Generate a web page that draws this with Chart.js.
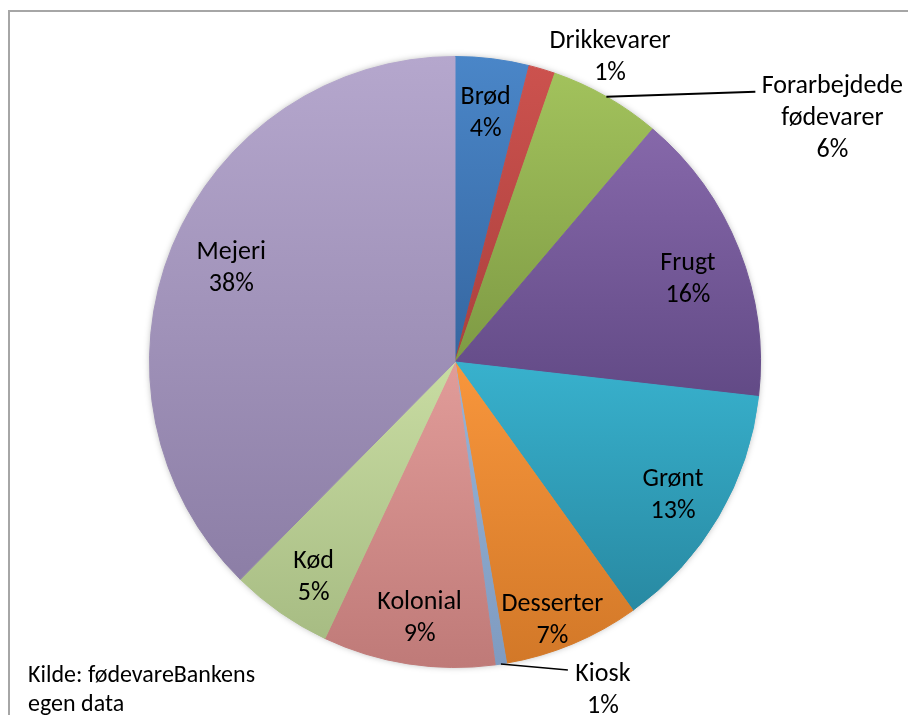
<!DOCTYPE html>
<html>
<head>
<meta charset="utf-8">
<script src="https://cdn.jsdelivr.net/npm/chart.js@4"></script>
<style>
  html, body { margin: 0; padding: 0; background: #fff; }
  canvas { display: block; }
</style>
</head>
<body>
<canvas id="pie" width="908" height="715"></canvas>
<script>
// Andel pr. varegruppe (aflæst fra figuren, i %)
const categories = ['Brød', 'Drikkevarer', 'Forarbejdede fødevarer', 'Frugt', 'Grønt',
  'Desserter', 'Kiosk', 'Kolonial', 'Kød', 'Mejeri'];
const shares = [3.9, 1.4, 5.9, 15.6, 13.3, 7.2, 0.6, 9.1, 5.4, 37.6];
const labelLines = [['Brød'], ['Drikkevarer'], ['Forarbejdede', 'fødevarer'], ['Frugt'], ['Grønt'],
  ['Desserter'], ['Kiosk'], ['Kolonial'], ['Kød'], ['Mejeri']];
const sourceNote = ['Kilde: fødevareBankens', 'egen data'];

// farver: top -> bund (Excel-agtig gradient)
const topColors = ['#4a86c8', '#cc524e', '#a2c25c', '#8668aa', '#38b1cd',
  '#f8963c', '#97b4d8', '#e19c99', '#c8dca2', '#b5a7cd'];
const bottomColors = ['#3566a0', '#ab403d', '#7e9a44', '#624a86', '#2889a2',
  '#d27828', '#7f9bc0', '#bf7a78', '#a7bc83', '#8c7ea6'];

const FONT = '"Carlito", "Lato", sans-serif';
const total = shares.reduce((a, b) => a + b, 0);

/**
 * gradient pr. stykke, fra øverste til nederste punkt af stykket
 */
function sliceFill(ctx) {
  const i = ctx.dataIndex;
  const chart = ctx.chart;
  const area = chart.chartArea;
  if (!area || i === undefined) return topColors[i] || '#888';
  const cx = (area.left + area.right) / 2;
  const cy = (area.top + area.bottom) / 2;
  const r = Math.min(area.width, area.height) / 2;
  let before = 0;
  for (let k = 0; k < i; k++) before += shares[k];
  const a0 = before / total * Math.PI * 2 - Math.PI / 2;
  const a1 = (before + shares[i]) / total * Math.PI * 2 - Math.PI / 2;
  const ys = [cy, cy + r * Math.sin(a0), cy + r * Math.sin(a1)];
  const within = (a) => {
    let t = a;
    while (t < a0) t += Math.PI * 2;
    return t <= a1;
  };
  if (within(-Math.PI / 2)) ys.push(cy - r);
  if (within(Math.PI / 2)) ys.push(cy + r);
  const yTop = Math.min(...ys);
  const yBot = Math.max(...ys);
  const g = chart.ctx.createLinearGradient(0, yTop, 0, yBot + 1);
  g.addColorStop(0, topColors[i]);
  g.addColorStop(1, bottomColors[i]);
  return g;
}

// ramme + skygge under lagkagen
const framePlugin = {
  id: 'frame',
  beforeDraw(chart) {
    const c = chart.ctx;
    c.save();
    c.strokeStyle = '#a6a6a6';
    c.lineWidth = 2;
    c.beginPath();
    c.moveTo(9, 715);
    c.lineTo(9, 11);
    c.lineTo(908, 11);
    c.stroke();
    c.restore();
  },
  beforeDatasetsDraw(chart) {
    const arc = chart.getDatasetMeta(0).data[0];
    if (!arc) return;
    const c = chart.ctx;
    c.save();
    c.shadowColor = 'rgba(0,0,0,0.35)';
    c.shadowBlur = 7;
    c.fillStyle = '#ffffff';
    c.beginPath();
    c.arc(arc.x, arc.y, arc.outerRadius - 1, 0, Math.PI * 2);
    c.fill();
    c.restore();
  },
};

// små justeringer af etiketternes placering (px), som Excel's "bedste tilpasning"
const nudge = {
  'Frugt': [0, 10], 'Grønt': [2, 7], 'Desserter': [-8, 6], 'Kolonial': [3, 9],
  'Kød': [2, 10], 'Mejeri': [8, 2],
};

// dataetiketter (inde i stykkerne, eller ude med streg)
const labelPlugin = {
  id: 'sliceLabels',
  afterDatasetsDraw(chart) {
    const c = chart.ctx;
    const meta = chart.getDatasetMeta(0);
    const lh = 32;
    c.save();
    c.font = '26px ' + FONT;
    c.fillStyle = '#000';
    c.textAlign = 'center';
    c.textBaseline = 'middle';

    const drawBlock = (lines, x, yCenter) => {
      const y0 = yCenter - (lines.length - 1) * lh / 2;
      lines.forEach((t, k) => c.fillText(t, x, y0 + k * lh));
    };

    meta.data.forEach((arc, i) => {
      const mid = (arc.startAngle + arc.endAngle) / 2;
      const R = arc.outerRadius;
      const pct = Math.round(shares[i] / total * 100) + '%';
      const lines = labelLines[i].concat([pct]);
      const ex = arc.x + R * Math.cos(mid);
      const ey = arc.y + R * Math.sin(mid);

      if (categories[i] === 'Drikkevarer') {
        drawBlock(lines, ex + 68, ey - 12);
      } else if (categories[i] === 'Forarbejdede fødevarer') {
        c.save();
        c.strokeStyle = '#000';
        c.lineWidth = 2;
        c.beginPath();
        c.moveTo(ex, ey);
        c.lineTo(ex + 149, ey - 5);
        c.stroke();
        c.restore();
        drawBlock(lines, ex + 226, ey + 22);
      } else if (categories[i] === 'Kiosk') {
        c.save();
        c.strokeStyle = '#000';
        c.lineWidth = 1.5;
        c.beginPath();
        c.moveTo(ex, ey);
        c.lineTo(ex + 67, ey + 6);
        c.stroke();
        c.restore();
        drawBlock(lines, ex + 102, ey + 26);
      } else {
        const f = categories[i] === 'Desserter' ? 0.895 : 0.82;
        const d = nudge[categories[i]] || [0, 0];
        drawBlock(lines, arc.x + f * R * Math.cos(mid) + d[0], arc.y + f * R * Math.sin(mid) + d[1]);
      }
    });

    // kilde
    c.textAlign = 'left';
    c.font = '24px ' + FONT;
    c.fillText(sourceNote[0], 28, 676);
    c.fillText(sourceNote[1], 28, 705);
    c.restore();
  },
};

new Chart(document.getElementById('pie'), {
  type: 'pie',
  data: {
    labels: categories,
    datasets: [{
      data: shares,
      backgroundColor: sliceFill,
      borderColor: sliceFill,
      borderWidth: 1,
    }],
  },
  options: {
    responsive: false,
    devicePixelRatio: 1,
    animation: false,
    layout: { padding: { left: 149, right: 147, top: 56, bottom: 47 } },
    plugins: {
      legend: { display: false },
      tooltip: { enabled: false },
    },
  },
  plugins: [framePlugin, labelPlugin],
});
</script>
</body>
</html>
